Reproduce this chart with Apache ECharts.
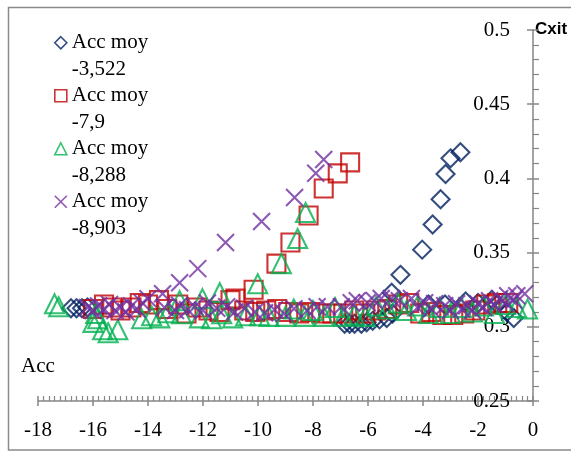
<!DOCTYPE html>
<html>
<head>
<meta charset="utf-8">
<script src="https://cdn.jsdelivr.net/npm/echarts@6/dist/echarts.min.js"></script>
<style>
  html, body { margin: 0; padding: 0; background: #fff; }
  #chart { width: 571px; height: 452px; }
</style>
</head>
<body>
<div id="chart"></div>
<script>
// Legend captions (mean acceleration of each run)
const runLabels = ['-3,522', '-7,9', '-8,288', '-8,903'];

// Axis ticks
const accTicks = [-18, -16, -14, -12, -10, -8, -6, -4, -2, 0];
const cxitTicks = [0.25, 0.3, 0.35, 0.4, 0.45, 0.5];

// Run 1 : Acc moy -3,522
const run1Acc = [-16.8, -16.6, -16.4, -16.2,
  -6.85, -6.67, -6.49, -6.24, -6.05, -5.83, -5.58, -5.32, -5.11,
  -5.14, -4.82, -4.03, -3.65, -3.36, -3.18, -3.0, -2.64,
  -3.8, -3.2, -2.45, -2.0, -1.5, -1.3, -0.95, -0.7];
const run1Cxit = [0.3125, 0.3125, 0.3125, 0.313,
  0.302, 0.302, 0.302, 0.302, 0.303, 0.304, 0.305, 0.306, 0.309,
  0.323, 0.335, 0.352, 0.369, 0.386, 0.403, 0.4135, 0.4176,
  0.315, 0.315, 0.317, 0.316, 0.318, 0.315, 0.310, 0.306];

// Run 2 : Acc moy -7,9
const run2Acc = [-16.0, -15.6, -15.3, -15.0, -14.6, -14.3, -14.0, -13.6, -13.3, -12.9,
  -12.6, -12.2, -11.8, -11.4, -11.0, -10.82,
  -10.16, -9.33, -8.82, -8.16, -7.61, -7.1, -6.65,
  -10.5, -10.1, -9.7, -9.3, -8.9, -8.5, -8.1, -7.7, -7.3, -6.9, -6.5, -6.1, -5.7,
  -5.3, -4.9, -4.5, -4.1, -3.7, -3.3, -2.9, -2.5, -2.1, -1.7, -1.3, -0.9];
const run2Cxit = [0.312, 0.315, 0.313, 0.311, 0.313, 0.316, 0.315, 0.318, 0.312, 0.315,
  0.309, 0.313, 0.311, 0.310, 0.318, 0.319,
  0.325, 0.3426, 0.3568, 0.375, 0.3932, 0.4034, 0.4108,
  0.311, 0.310, 0.311, 0.312, 0.310, 0.309, 0.310, 0.309, 0.309, 0.309, 0.311, 0.309, 0.311,
  0.312, 0.315, 0.316, 0.309, 0.310, 0.308, 0.308, 0.309, 0.311, 0.315, 0.316, 0.316];

// Run 3 : Acc moy -8,288
const run3Acc = [-17.4, -17.25,
  -16.0, -15.83, -15.65, -15.45, -15.1, -15.9,
  -14.23, -13.87, -13.57, -13.28, -12.85, -12.78, -12.13, -12.02, -11.69, -11.39, -11.32,
  -10.92, -10.45, -10.01, -9.94,
  -9.15, -8.56, -8.27,
  -9.6, -9.0, -8.7, -8.3, -8.0, -7.6, -7.2, -6.9, -6.5, -6.1, -5.7, -5.3, -4.9, -4.6,
  -4.2, -3.8, -3.4, -3.0, -2.6, -2.2, -1.8, -1.4, -1.0, -0.6, -0.2];
const run3Cxit = [0.3155, 0.3135,
  0.303, 0.3054, 0.298, 0.296, 0.298, 0.309,
  0.3054, 0.3074, 0.306, 0.3095, 0.3176, 0.3088, 0.306, 0.319, 0.3054, 0.323, 0.3088,
  0.306, 0.3074, 0.329, 0.3074,
  0.3426, 0.3595, 0.377,
  0.307, 0.307, 0.312, 0.307, 0.311, 0.307, 0.313, 0.307, 0.308, 0.307, 0.314, 0.312, 0.316, 0.311,
  0.314, 0.309, 0.313, 0.309, 0.313, 0.310, 0.314, 0.309, 0.315, 0.313, 0.312];

// Run 4 : Acc moy -8,903
const run4Acc = [-16.2, -16.0, -15.8, -15.6, -15.4, -15.2, -15.0, -14.8, -14.6, -14.4, -14.2,
  -14.0, -13.47, -12.85, -12.19, -11.18, -9.87, -8.67, -7.9, -7.61,
  -13.4, -13.0, -12.85, -12.56, -12.3, -12.0, -11.84, -11.5, -11.14, -10.85, -10.49, -10.12, -9.76, -9.4,
  -9.05, -8.69, -8.21, -7.85, -7.48, -6.97, -6.61, -6.39, -6.03, -5.77, -5.52, -5.15, -4.86,
  -4.42, -4.2, -3.94, -3.7, -3.58, -3.21, -3.0, -2.78, -2.6, -2.41, -2.2, -2.01, -1.8,
  -1.58, -1.4, -1.21, -1.0, -0.92, -0.7, -0.59, -0.3];
const run4Cxit = [0.313, 0.311, 0.314, 0.312, 0.315, 0.311, 0.313, 0.310, 0.314, 0.312, 0.316,
  0.3189, 0.3223, 0.3297, 0.3392, 0.3568, 0.371, 0.3872, 0.4034, 0.4128,
  0.313, 0.311, 0.3145, 0.3115, 0.3135, 0.311, 0.316, 0.3125, 0.3135, 0.310, 0.3125, 0.310, 0.3095, 0.3115,
  0.309, 0.3122, 0.311, 0.3135, 0.3135, 0.3135, 0.3162, 0.3176, 0.3162, 0.3176, 0.319, 0.319, 0.3176,
  0.319, 0.313, 0.3162, 0.312, 0.3155, 0.3142, 0.311, 0.3155, 0.312, 0.3142, 0.311, 0.3155, 0.313,
  0.3176, 0.315, 0.319, 0.316, 0.321, 0.318, 0.321, 0.3223];

const runColors = ['#002060', '#C00000', '#00B050', '#7030A0'];
const runSymbols = ['diamond', 'rect', 'triangle', 'path://M0,0L10,10M10,0L0,10'];
const runSizes = [18, 18, 19, 17];

const runs = [
  [run1Acc, run1Cxit],
  [run2Acc, run2Cxit],
  [run3Acc, run3Cxit],
  [run4Acc, run4Cxit]
];

const serifFont = '"Liberation Serif", "Times New Roman", serif';
const axisGray = '#868686';

const series = runs.map(([xs, ys], i) => ({
  type: 'scatter',
  name: 'Acc moy\n' + runLabels[i],
  data: xs.map((x, k) => [x, ys[k]]),
  symbol: runSymbols[i],
  symbolSize: runSizes[i],
  itemStyle: {
    color: 'rgba(0,0,0,0)',
    borderColor: runColors[i],
    borderWidth: 2.1
  },
  emphasis: { disabled: true },
  animation: false
}));

const chart = echarts.init(document.getElementById('chart'), null, { renderer: 'canvas' });
chart.setOption({
  backgroundColor: '#fff',
  animation: false,
  graphic: [{
    type: 'rect',
    silent: true,
    shape: { x: 8.5, y: 7.5, width: 570, height: 442.5 },
    style: { fill: 'none', stroke: '#8a8a8a', lineWidth: 1.5 }
  }],
  grid: { left: 38, right: 38, top: 30, bottom: 51, containLabel: false },
  legend: {
    orient: 'vertical',
    left: 54,
    top: 3,
    padding: 0,
    itemGap: -26.5,
    itemWidth: 12,
    itemHeight: 12,
    selectedMode: false,
    formatter: name => '\n' + name,
    itemStyle: { borderWidth: 1.6 },
    textStyle: {
      fontFamily: serifFont,
      fontSize: 21,
      lineHeight: 26.5,
      color: '#000'
    },
    data: series.map(s => s.name)
  },
  xAxis: [{
    type: 'value',
    position: 'bottom',
    min: accTicks[0],
    max: accTicks[accTicks.length - 1],
    interval: 2,
    name: 'Acc',
    nameLocation: 'start',
    nameGap: 0,
    nameTextStyle: {
      fontFamily: serifFont,
      fontSize: 21,
      color: '#000',
      align: 'center',
      verticalAlign: 'bottom',
      padding: [0, 0, 24, 0]
    },
    axisLine: { onZero: false, lineStyle: { color: axisGray, width: 1.5 } },
    axisTick: { inside: true, length: 5, lineStyle: { color: axisGray, width: 1.5 } },
    minorTick: { show: true, splitNumber: 10, length: 5, lineStyle: { color: axisGray, width: 1.2 } },
    axisLabel: { fontFamily: serifFont, fontSize: 21, color: '#000', margin: 19 },
    splitLine: { show: false },
    minorSplitLine: { show: false }
  }, {
    type: 'value',
    position: 'bottom',
    min: accTicks[0],
    max: accTicks[accTicks.length - 1],
    interval: 2,
    axisLine: { show: false, onZero: false },
    axisTick: { inside: false, length: 5, lineStyle: { color: axisGray, width: 1.5 } },
    axisLabel: { show: false },
    splitLine: { show: false }
  }],
  yAxis: [{
    type: 'value',
    position: 'right',
    min: cxitTicks[0],
    max: cxitTicks[cxitTicks.length - 1],
    interval: 0.05,
    name: 'Cxit',
    nameLocation: 'end',
    nameGap: 1,
    nameTextStyle: {
      fontFamily: '"Liberation Sans", Arial, sans-serif',
      fontWeight: 'bold',
      fontSize: 17,
      color: '#000',
      align: 'left',
      verticalAlign: 'middle',
      padding: [0, 0, 0, 2]
    },
    axisLine: { onZero: false, lineStyle: { color: axisGray, width: 1.5 } },
    axisTick: { inside: false, length: 6, lineStyle: { color: axisGray, width: 1.5 } },
    minorTick: { show: true, splitNumber: 5, length: 6, lineStyle: { color: axisGray, width: 1.2 } },
    axisLabel: { inside: true, margin: 23, fontFamily: serifFont, fontSize: 21, color: '#000' },
    splitLine: { show: false },
    minorSplitLine: { show: false }
  }, {
    type: 'value',
    position: 'right',
    min: cxitTicks[0],
    max: cxitTicks[cxitTicks.length - 1],
    interval: 0.05,
    axisLine: { show: false, onZero: false },
    axisTick: { inside: true, length: 6, lineStyle: { color: axisGray, width: 1.5 } },
    axisLabel: { show: false },
    splitLine: { show: false }
  }],
  series: series
});
</script>
</body>
</html>
